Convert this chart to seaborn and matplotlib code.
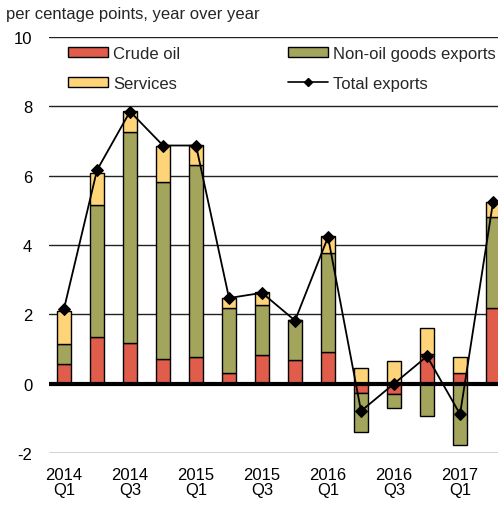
import numpy as np
import pandas as pd
import matplotlib
matplotlib.use("Agg")
import matplotlib.pyplot as plt
import seaborn as sns
from matplotlib.patches import Patch
from matplotlib.lines import Line2D

quarters = ["2014Q1", "2014Q2", "2014Q3", "2014Q4", "2015Q1", "2015Q2", "2015Q3",
            "2015Q4", "2016Q1", "2016Q2", "2016Q3", "2016Q4", "2017Q1", "2017Q2"]
crude = [0.58, 1.36, 1.18, 0.72, 0.76, 0.30, 0.82, 0.68, 0.91, -0.27, -0.29, 0.86, 0.30, 2.19]
nonoil = [0.55, 3.80, 6.09, 5.09, 5.55, 1.88, 1.46, 1.17, 2.87, -1.12, -0.41, -0.93, -1.76, 2.61]
services = [0.98, 0.92, 0.60, 1.04, 0.58, 0.29, 0.36, 0.0, 0.48, 0.45, 0.64, 0.74, 0.48, 0.45]
total = [2.16, 6.16, 7.85, 6.87, 6.87, 2.47, 2.62, 1.82, 4.23, -0.79, 0.0, 0.79, -0.88, 5.24]

tick_labels = ["2014\nQ1", "2014\nQ3", "2015\nQ1", "2015\nQ3", "2016\nQ1", "2016\nQ3", "2017\nQ1"]
series_names = ["Crude oil", "Non-oil goods exports", "Services"]
colors = {"Crude oil": "#E05C4B", "Non-oil goods exports": "#A3A55D", "Services": "#FFD479"}

sns.set_style("white")
plt.rcParams["font.family"] = ["Liberation Sans", "DejaVu Sans"]
plt.rcParams["font.size"] = 12
plt.rcParams["axes.unicode_minus"] = False

fig = plt.figure(figsize=(4.98, 5.06), dpi=100)
ax = fig.add_axes([49 / 498, 1 - 454 / 506, 1 - 49 / 498, (454 - 38) / 506])

pos_base = np.zeros(len(quarters))
neg_base = np.zeros(len(quarters))
for name, vals in zip(series_names, [crude, nonoil, services]):
    v = np.array(vals, dtype=float)
    bottom = np.where(v >= 0, pos_base, neg_base)
    df = pd.DataFrame({"quarter": quarters, "value": v})
    sns.barplot(data=df, x="quarter", y="value", order=quarters, bottom=bottom,
                color=colors[name], saturation=1, width=0.4, edgecolor="black",
                linewidth=1.0, errorbar=None, ax=ax, zorder=2)
    pos_base = pos_base + np.where(v >= 0, v, 0)
    neg_base = neg_base + np.where(v < 0, v, 0)

ax.axhline(0, color="black", lw=3, zorder=2.5)

dft = pd.DataFrame({"quarter": quarters, "total": total})
sns.lineplot(data=dft, x="quarter", y="total", color="black", lw=1.3, marker="D",
             markersize=6, markeredgecolor="black", ax=ax, zorder=3, sort=False)

ax.set_ylim(-2, 10)
ax.set_yticks(range(-2, 11, 2))
ax.set_xlim(-0.455, 13.15)
ax.set_xticks(range(0, 13, 2))
ax.set_xticklabels(tick_labels)
ax.set_xlabel("")
ax.set_ylabel("")
ax.grid(axis="y", color="#222222", lw=1.0, zorder=0)
ax.grid(axis="x", visible=False)
ax.set_axisbelow(True)
for s in ax.spines.values():
    s.set_visible(False)
ax.tick_params(axis="both", length=0, labelsize=12, colors="black")
ax.tick_params(axis="y", pad=12)
ax.tick_params(axis="x", pad=10)
for t in ax.get_xticklabels():
    t.set_linespacing(1.0)

handles = [Patch(facecolor=colors["Crude oil"], edgecolor="black", lw=1.0),
           Patch(facecolor=colors["Services"], edgecolor="black", lw=1.0),
           Patch(facecolor=colors["Non-oil goods exports"], edgecolor="black", lw=1.0),
           Line2D([0], [0], color="black", lw=1.2, marker="D", markersize=4)]
labels = ["Crude oil", "Services", "Non-oil goods exports", "Total exports"]
fig.legend(handles, labels, ncol=2, loc="upper left",
           bbox_to_anchor=(68 / 498, 1 - 47 / 506), bbox_transform=fig.transFigure,
           frameon=False, borderpad=0, borderaxespad=0, handlelength=2.4,
           handleheight=0.55, handletextpad=0.3, columnspacing=6.5,
           labelspacing=0.88, fontsize=12)

fig.text(6 / 498, 1 - 14 / 506, "per centage points, year over year",
         fontsize=12, va="center", ha="left")

fig.savefig("out.png", dpi=100)
